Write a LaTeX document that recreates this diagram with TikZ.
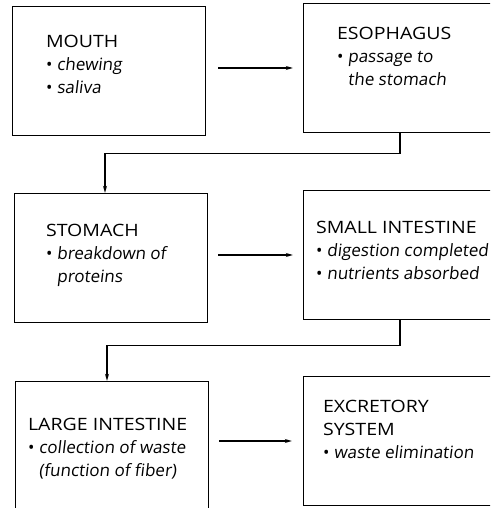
\documentclass[tikz,border=0pt]{standalone}
\usepackage{fontspec}
\setmainfont{Open Sans}
\newfontfamily\itemfont[FakeSlant=0.12]{Open Sans}
\newfontfamily\headfont[FakeStretch=1.15]{Open Sans}
\usetikzlibrary{positioning, arrows.meta}
\newcommand{\hd}[1]{{\headfont #1}}
\newcommand{\itm}[1]{\textbullet\ {\itemfont #1}}
\newcommand{\cnt}[1]{\phantom{\textbullet\ }{\itemfont #1}}

\begin{document}
\begin{tikzpicture}[x=1pt, y=1pt, >={Stealth[length=7pt,width=4pt]},
        box/.style={draw, line width=1.3pt, minimum width=193pt, minimum height=129pt},
        txt/.style={inner sep=0pt, align=left, font=\fontsize{17}{23}\selectfont},
        link/.style={->, line width=1.1pt}]
      \useasboundingbox (0,0) rectangle (490,508);
      \clip (0,0) rectangle (490,508);
      % boxes
      \node[box] (m) at (109,437) {};
      \node[box] (e) at (400,440) {};
      \node[box] (st) at (111,250) {};
      \node[box] (si) at (400,253) {};
      \node[box] (li) at (112,62) {};
      \node[box] (ex) at (400,67) {};
      % texts
      \node[txt, below right=29pt and 34pt of m.north west] (mt)
        {\hd{MOUTH}\\ \itm{chewing}\\ \itm{saliva}};
      \node[txt, below right=24pt and 34pt of e.north west] (et)
        {\hd{ESOPHAGUS}\\ \itm{passage to}\\ \cnt{the stomach}};
      \node[txt, below right=31pt and 32pt of st.north west] (stt)
        {\hd{STOMACH}\\ \itm{breakdown of}\\ \cnt{proteins}};
      \node[txt, below right=31pt and 13pt of si.north west] (sit)
        {\hd{SMALL INTESTINE}\\ \itm{digestion completed}\\ \itm{nutrients absorbed}};
      \node[txt, below right=37pt and 13pt of li.north west] (lit)
        {\hd{LARGE INTESTINE}\\ \itm{collection of waste}\\ \cnt{(function of fiber)}};
      \node[txt, below right=24pt and 20pt of ex.north west] (ext)
        {\hd{EXCRETORY}\\ \hd{SYSTEM}\\ \itm{waste elimination}};
      % connectors
      \draw[link, shorten <=12pt, shorten >=10pt] (m.east |- e) -- (e);
      \draw[link, shorten <=10pt, shorten >=10pt] (st.east |- si) -- (si);
      \draw[link, shorten <=10pt, shorten >=11pt] (li.east |- ex) -- (ex);
      \draw[link] (e.south) -- ++(0,-20) -| ([xshift=-6pt]st.north);
      \draw[link] (si.south) -- ++(0,-25) -| ([xshift=-5pt]li.north);
    \end{tikzpicture}
\end{document}
